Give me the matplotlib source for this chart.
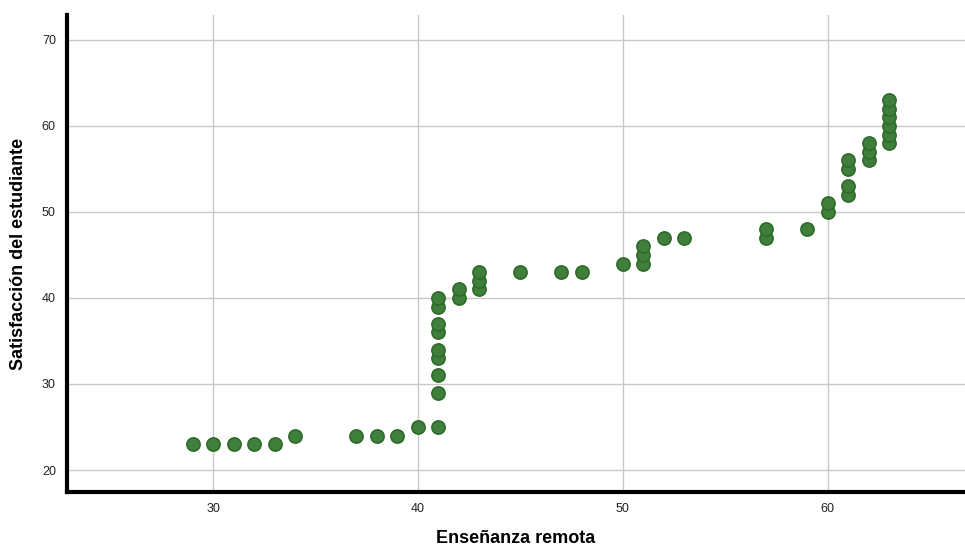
import matplotlib
matplotlib.use("Agg")
import matplotlib.pyplot as plt

# Enseñanza remota (x) vs Satisfacción del estudiante (y)
ensenanza = [29, 30, 31, 32, 33, 34, 37, 38, 39, 40,
             41, 41, 41, 41, 41, 41, 41, 41, 41,
             42, 42, 43, 43, 43, 45, 47, 48, 50,
             51, 51, 51, 52, 53, 57, 57, 59, 60, 60,
             61, 61, 61, 61, 62, 62, 62,
             63, 63, 63, 63, 63, 63]
satisfaccion = [23, 23, 23, 23, 23, 24, 24, 24, 24, 25,
                25, 29, 31, 33, 34, 36, 37, 39, 40,
                40, 41, 41, 42, 43, 43, 43, 43, 44,
                44, 45, 46, 47, 47, 47, 48, 48, 50, 51,
                52, 53, 55, 56, 56, 57, 58,
                58, 59, 60, 61, 62, 63]

x_ticks = [30, 40, 50, 60]
y_ticks = [20, 30, 40, 50, 60, 70]

plt.rcParams['font.family'] = ['Liberation Sans', 'DejaVu Sans']

fig = plt.figure(figsize=(9.65, 5.47), dpi=100)
ax = fig.add_axes([0.0694, 0.1005, 0.9306, 0.8721])

ax.scatter(ensenanza, satisfaccion, s=90, color='#3f7f3b',
           edgecolors='#2e6b2a', linewidths=1.2, zorder=3)

ax.set_xlim(22.87, 66.7)
ax.set_ylim(17.44, 72.9)
ax.set_xticks(x_ticks)
ax.set_yticks(y_ticks)
ax.grid(True, color='#c8c8c8', linewidth=1)
ax.set_axisbelow(True)

for side in ['top', 'right']:
    ax.spines[side].set_visible(False)
for side in ['left', 'bottom']:
    ax.spines[side].set_linewidth(3)
    ax.spines[side].set_color('black')

ax.tick_params(length=0, labelsize=9, colors='#222222', pad=8)
ax.set_xlabel('Enseñanza remota', fontsize=13, fontweight='bold', labelpad=11)
ax.set_ylabel('Satisfacción del estudiante', fontsize=13, fontweight='bold', labelpad=11)

fig.savefig('out.png', dpi=100)
